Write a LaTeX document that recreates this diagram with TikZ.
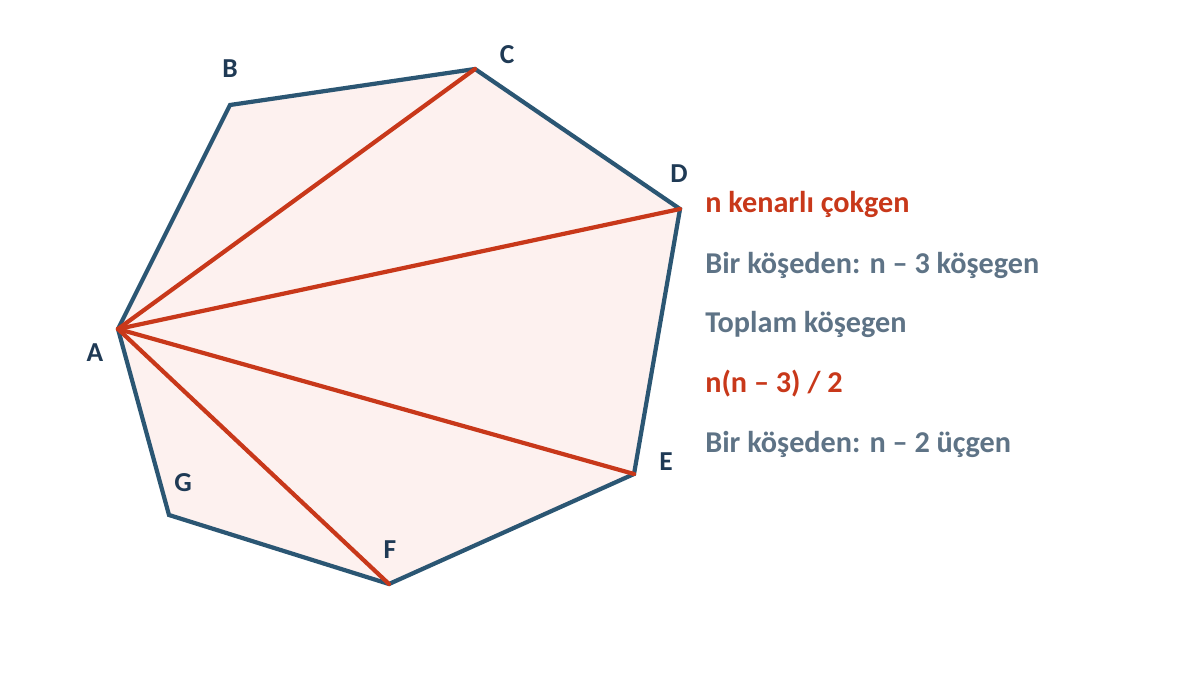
\documentclass[tikz,border=0pt]{standalone}
\usepackage{fontspec}
\setmainfont{Carlito}
\usepackage{tikz}
\definecolor{edgeblue}{HTML}{2B5673}
\definecolor{diagred}{HTML}{C8381A}
\definecolor{polyfill}{HTML}{FDF1EF}
\definecolor{notegray}{HTML}{5E7386}
\definecolor{labelnavy}{HTML}{1F3A55}
\begin{document}
\begin{tikzpicture}[x=0.025cm,y=-0.025cm,
  vlabel/.style={anchor=base,text=labelnavy,font=\bfseries\fontsize{19.5}{22}\selectfont},
  note/.style={anchor=base west,inner sep=0pt,text=notegray,font=\bfseries\fontsize{21.5}{25}\selectfont},
  rednote/.style={note,text=diagred},
  diag/.style={color=diagred,line width=3pt,line cap=round}]
\useasboundingbox (0,0) rectangle (1200,675);
% corners of the heptagon
\coordinate (A) at (118,329);
\coordinate (B) at (230,105);
\coordinate (C) at (475,69);
\coordinate (D) at (680,209);
\coordinate (E) at (634,474);
\coordinate (F) at (389,584);
\coordinate (G) at (169,515);
\filldraw[fill=polyfill,draw=edgeblue,line width=3pt,line join=miter] (A) -- (B) -- (C) -- (D) -- (E) -- (F) -- (G) -- cycle;
% diagonals from A
\foreach \v in {C,D,E,F}
  \draw[diag] (A) -- (\v);
% corner letters
\node[vlabel] (lA) at (95,361) {A};
\node[vlabel] (lB) at (230,78) {B};
\node[vlabel] (lC) at (507,64) {C};
\node[vlabel] (lD) at (679,183) {D};
\node[vlabel] (lE) at (666,470) {E};
\node[vlabel] (lF) at (390,558) {F};
\node[vlabel] (lG) at (183,491) {G};
% side notes
\node[rednote] (n1) at (705,213) {n kenarlı çokgen};
\node[note] (n2) at (705,273) {Bir köşeden: n – 3 köşegen};
\node[note] (n3) at (705,332) {Toplam köşegen};
\node[rednote] (n4) at (705,392) {n(n – 3) / 2};
\node[note] (n5) at (705,452) {Bir köşeden: n – 2 üçgen};
\end{tikzpicture}
\end{document}
